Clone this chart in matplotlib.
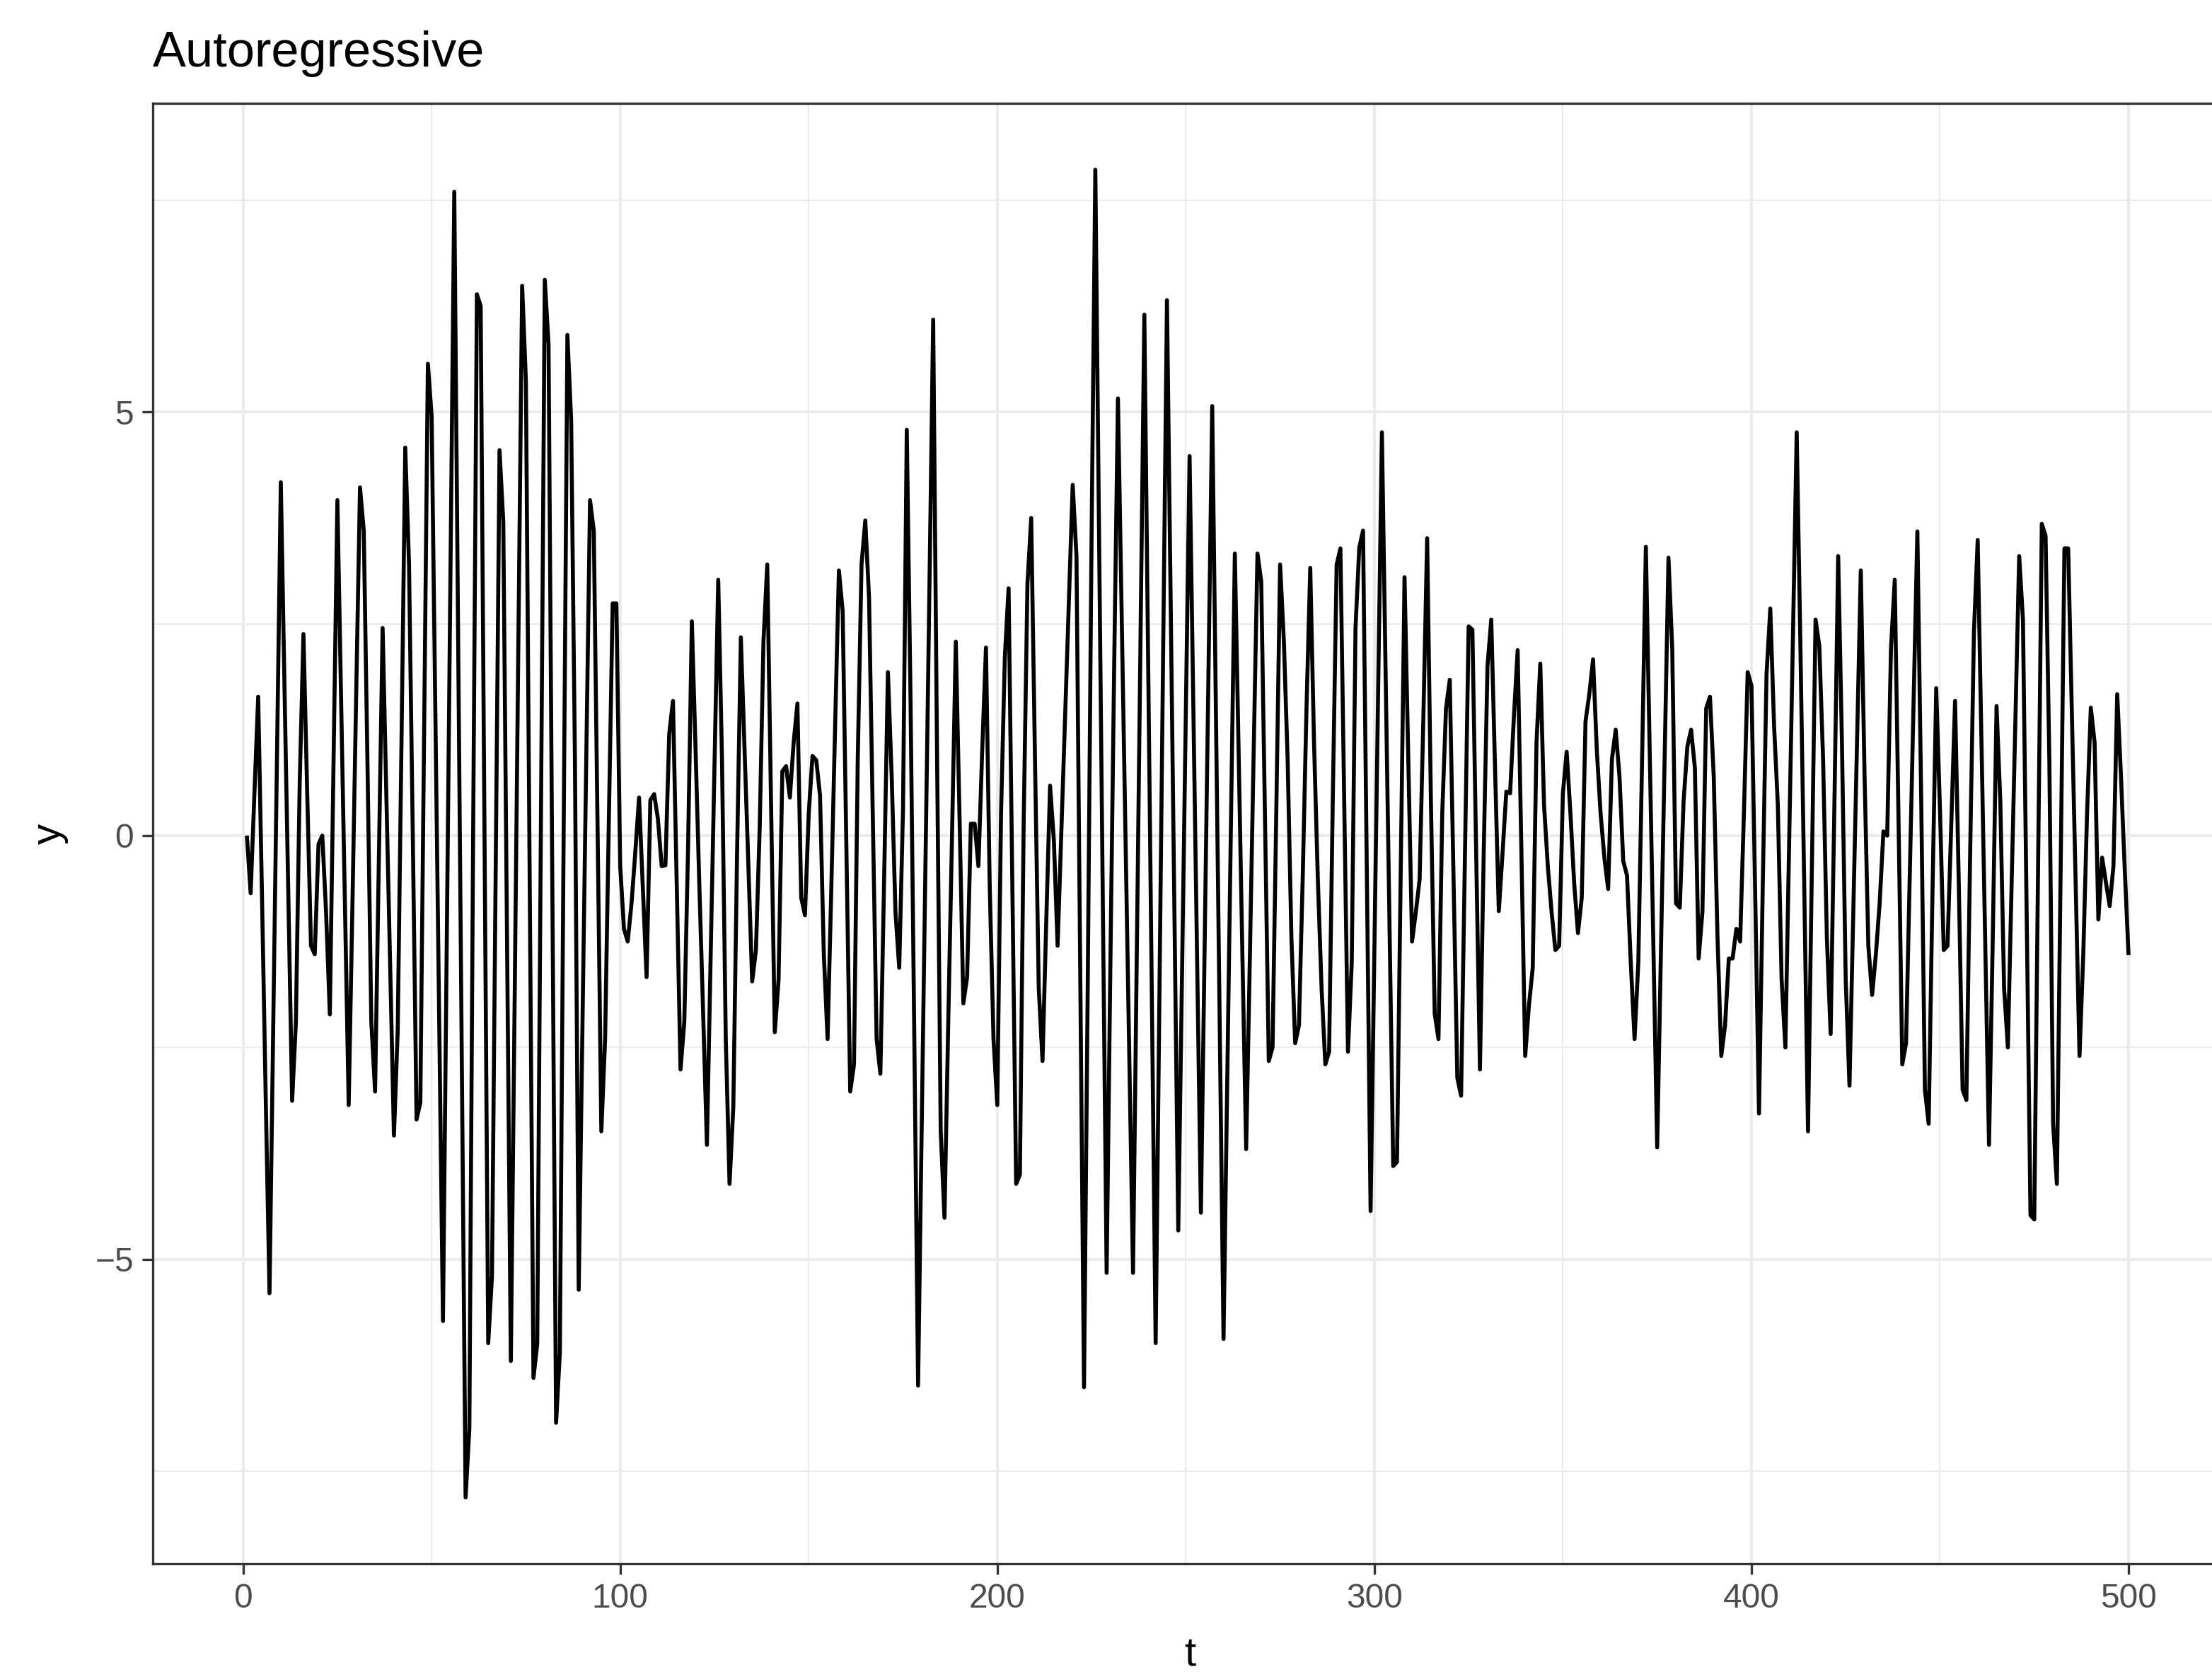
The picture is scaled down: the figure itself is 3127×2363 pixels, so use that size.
import numpy as np
import matplotlib
matplotlib.use("Agg")
import matplotlib.pyplot as plt
from matplotlib.ticker import FixedLocator

# -----------------------------
# Data: simulated AR series, t = 1..500
# -----------------------------
y_vals = [
    0.00, -0.68, 0.50, 1.64, -0.70, -3.10, -5.40, -2.20, 1.00, 4.17,
    1.70, -0.70, -3.13, -2.20, 0.60, 2.38, 0.50, -1.30, -1.40, -0.10,
    0.00, -0.90, -2.11, 0.90, 3.96, 1.60, -0.80, -3.18, -0.80, 1.70,
    4.11, 3.60, 0.80, -2.20, -3.02, -0.30, 2.45, 0.45, -1.55, -3.54,
    -2.30, 1.10, 4.58, 3.20, 0.00, -3.35, -3.15, 1.20, 5.57, 4.95,
    1.40, -2.20, -5.73, -1.29, 3.16, 7.60, 2.46, -2.67, -7.81, -7.00,
    0.00, 6.39, 6.25, 0.10, -5.99, -5.20, -0.30, 4.55, 3.70, -1.20,
    -6.20, -2.00, 2.30, 6.49, 5.36, -0.50, -6.40, -6.00, 0.30, 6.56,
    5.80, -0.60, -6.93, -6.10, 0.00, 5.91, 4.90, 0.90, -5.36, -2.20,
    0.90, 3.96, 3.60, 0.10, -3.49, -2.40, 0.20, 2.74, 2.74, -0.36,
    -1.10, -1.25, -0.80, -0.20, 0.45, -0.60, -1.67, 0.42, 0.49, 0.20,
    -0.36, -0.35, 1.20, 1.59, -0.60, -2.76, -2.20, -0.15, 2.53, 1.00,
    -0.60, -2.10, -3.65, -1.40, 0.80, 3.02, 0.90, -2.40, -4.11, -3.20,
    -0.20, 2.34, 1.00, -0.36, -1.72, -1.35, 0.10, 2.30, 3.20, 0.40,
    -2.32, -1.70, 0.76, 0.82, 0.45, 1.10, 1.56, -0.73, -0.94, 0.26,
    0.94, 0.89, 0.47, -1.40, -2.40, -0.60, 1.30, 3.13, 2.65, -0.20,
    -3.02, -2.70, 0.90, 3.20, 3.72, 2.80, 0.20, -2.40, -2.81, -0.50,
    1.93, 0.70, -0.90, -1.56, 0.30, 4.79, 1.60, -2.40, -6.49, -3.30,
    -0.20, 2.90, 6.09, 1.10, -3.49, -4.51, -2.20, 0.00, 2.29, 0.20,
    -1.98, -1.67, 0.14, 0.14, -0.36, 1.00, 2.22, -0.60, -2.40, -3.18,
    0.26, 2.10, 2.92, -0.60, -4.11, -4.00, 0.15, 2.97, 3.75, 0.90,
    -1.80, -2.66, -1.00, 0.59, -0.05, -1.30, 0.06, 1.40, 2.80, 4.14,
    3.30, -1.60, -6.51, -1.70, 3.50, 7.86, 3.50, -0.80, -5.16, -1.50,
    2.00, 5.16, 2.58, 0.00, -2.58, -5.16, -1.39, 2.38, 6.15, 2.10,
    -2.00, -5.99, -1.90, 2.20, 6.32, 2.70, -1.00, -4.66, -1.60, 1.40,
    4.48, 1.50, -1.50, -4.45, -1.28, 1.89, 5.07, 1.40, -2.27, -5.94,
    -2.85, 0.20, 3.33, 1.00, -1.40, -3.70, -1.40, 1.00, 3.33, 3.00,
    0.20, -2.66, -2.50, 0.30, 3.20, 2.30, 0.90, -1.20, -2.45, -2.24,
    -0.50, 1.50, 3.16, 1.10, -0.50, -1.80, -2.70, -2.55, 0.50, 3.20,
    3.39, 0.40, -2.55, -1.50, 2.45, 3.40, 3.60, -0.40, -4.43, -1.37,
    1.70, 4.76, 1.90, -1.00, -3.90, -3.85, -0.40, 3.05, 0.90, -1.25,
    -0.90, -0.52, 1.40, 3.51, 0.40, -2.10, -2.40, 0.26, 1.50, 1.84,
    -0.50, -2.86, -3.07, -0.30, 2.47, 2.43, -0.20, -2.76, -0.20, 2.00,
    2.55, 0.80, -0.89, -0.20, 0.52, 0.50, 1.40, 2.19, -0.20, -2.60,
    -2.00, -1.56, 1.10, 2.03, 0.36, -0.36, -0.90, -1.35, -1.30, 0.50,
    0.99, 0.26, -0.57, -1.15, -0.73, 1.35, 1.67, 2.08, 1.00, 0.26,
    -0.26, -0.63, 0.90, 1.25, 0.70, -0.30, -0.47, -1.50, -2.40, -1.50,
    0.90, 3.41, 1.05, -1.30, -3.68, -1.36, 0.96, 3.28, 2.20, -0.80,
    -0.85, 0.40, 1.05, 1.25, 0.80, -1.45, -0.90, 1.50, 1.64, 0.70,
    -1.20, -2.60, -2.24, -1.45, -1.45, -1.10, -1.25, 0.26, 1.93, 1.77,
    -0.70, -3.28, -0.60, 1.90, 2.68, 1.30, 0.36, -1.70, -2.50, -0.08,
    2.34, 4.76, 2.20, -0.60, -3.49, -0.50, 2.55, 2.24, 0.90, -1.20,
    -2.34, 0.36, 3.30, 1.10, -1.70, -2.95, -0.92, 1.10, 3.13, 0.70,
    -1.30, -1.88, -1.40, -0.80, 0.05, 0.00, 2.20, 3.02, 0.20, -2.70,
    -2.45, -0.44, 1.58, 3.59, 0.50, -3.00, -3.40, -0.70, 1.74, 0.30,
    -1.35, -1.30, 0.15, 1.59, -0.60, -3.00, -3.12, -0.20, 2.40, 3.49,
    1.11, -1.27, -3.65, -1.20, 1.53, 0.40, -1.80, -2.50, -0.57, 1.37,
    3.30, 2.55, -1.00, -4.48, -4.53, -0.40, 3.68, 3.54, 0.90, -3.40,
    -4.11, -0.40, 3.39, 3.39, 1.40, -0.60, -2.60, -1.40, 0.26, 1.51,
    1.10, -0.99, -0.26, -0.55, -0.83, -0.36, 1.67, 0.70, -0.40, -1.41,
]
t_vals = list(range(1, len(y_vals) + 1))

x_major = [0, 100, 200, 300, 400, 500]
x_minor = [50, 150, 250, 350, 450]
y_major = [-5, 0, 5]
y_minor = [-7.5, -2.5, 2.5, 7.5]
y_labels = ["\u22125", "0", "5"]

title = "Autoregressive"

# -----------------------------
# Plot
# -----------------------------
plt.rcParams["font.family"] = ["Liberation Sans", "DejaVu Sans"]

W, H = 3127, 2363
DPI = 300
fig = plt.figure(figsize=(W / DPI, H / DPI), dpi=DPI)
fig.patch.set_facecolor("white")

# panel in pixel coords (right edge runs past the canvas)
left_px, right_px, top_px, bottom_px = 216, 3142, 146, 2210
ax = fig.add_axes([left_px / W, 1 - bottom_px / H,
                   (right_px - left_px) / W, (bottom_px - top_px) / H])

ax.plot(t_vals, y_vals, color="black", lw=1.35,
        solid_joinstyle="round", solid_capstyle="butt", zorder=3)

# ggplot-like 5% expansion
xr = max(t_vals) - min(t_vals)
ax.set_xlim(min(t_vals) - 0.05 * xr, max(t_vals) + 0.05 * xr)
yr = max(y_vals) - min(y_vals)
ax.set_ylim(min(y_vals) - 0.05 * yr, max(y_vals) + 0.05 * yr)

ax.xaxis.set_major_locator(FixedLocator(x_major))
ax.xaxis.set_minor_locator(FixedLocator(x_minor))
ax.yaxis.set_major_locator(FixedLocator(y_major))
ax.yaxis.set_minor_locator(FixedLocator(y_minor))
ax.set_yticklabels(y_labels)

ax.set_axisbelow(True)
ax.grid(which="major", color="#EBEBEB", lw=1.0)
ax.grid(which="minor", color="#EBEBEB", lw=0.5)

ax.tick_params(which="major", length=3.5, width=0.8, color="#333333",
               labelsize=11.5, labelcolor="#4D4D4D", pad=3)
ax.tick_params(which="minor", length=0)

for sp in ax.spines.values():
    sp.set_color("#333333")
    sp.set_linewidth(0.8)

# title and axis titles
fig.text(left_px / W, 1 - 94 / H, title, fontsize=16.9, color="black",
         ha="left", va="baseline")
fig.text(1682 / W, 1 - 2354 / H, "t", fontsize=14, color="black",
         ha="center", va="baseline")
fig.text(70 / W, 1 - 1178 / H, "y", fontsize=14, color="black",
         ha="center", va="center", rotation=90)

fig.savefig("out.png", dpi=DPI, facecolor="white")
